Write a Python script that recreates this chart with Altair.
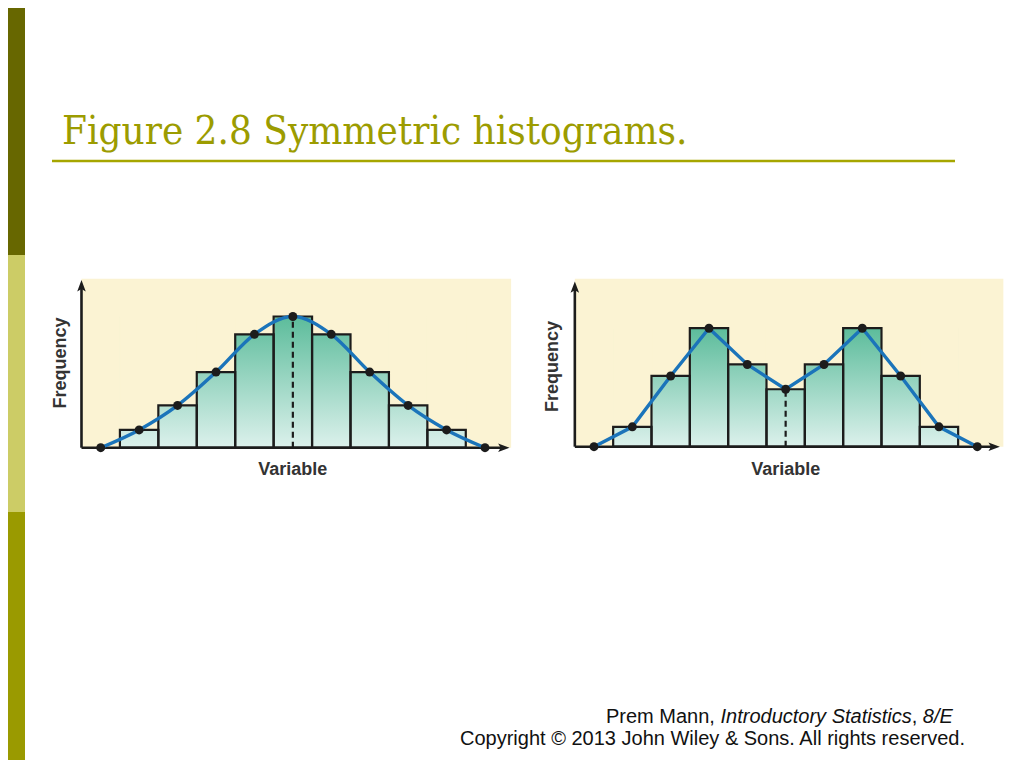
import altair as alt
import pandas as pd

# ---------------- data ----------------
classes = list(range(11))
left_freq = [0, 4, 9.5, 17, 25.5, 29.5, 25.5, 17, 9.5, 4, 0]
right_freq = [0, 4.5, 16, 26.8, 18.6, 13, 18.6, 26.8, 16, 4.5, 0]
x_label = "Variable"
y_label = "Frequency"
title_text = "Figure 2.8 Symmetric histograms."
footer_parts = ["Prem Mann, ", "Introductory Statistics", ", ", "8/E"]
footer_line2 = "Copyright \u00a9 2013 John Wiley & Sons. All rights reserved."

# ---------------- styles ----------------
BG = "#fbf3d3"
LINE = "#1b74ba"
INK = "#1c1c1c"
OLIVE = "#9c9c00"
GRAD = alt.Gradient(
    gradient="linear",
    stops=[alt.GradientStop(color="#5cbc9b", offset=0),
           alt.GradientStop(color="#dcf1ec", offset=1)],
    x1=0, x2=0, y1=0, y2=1,
)
ARROW_R = "M-1,-0.75 L1,0 L-1,0.75 L-0.55,0 Z"
ARROW_U = "M-0.75,1 L0,-1 L0.75,1 L0,0.55 Z"


def panel(freq, xr, yr, smooth, yaxis_top, xaxis_end, label_xy):
    xs = alt.Scale(domain=[0, 10], range=xr, nice=False, zero=False)
    ys = alt.Scale(domain=[0, 38], range=yr, nice=False, zero=False)
    peak = max(freq)
    df = pd.DataFrame({"cls": classes, "freq": freq})
    df["lo"] = df["cls"] - 0.5
    df["hi"] = df["cls"] + 0.5
    df["peak"] = peak
    df["zero"] = 0.0
    bars = df[(df["cls"] > 0) & (df["cls"] < 10)]

    def X(f):
        return alt.X(f, type="quantitative", scale=xs, axis=None)

    def Y(f):
        return alt.Y(f, type="quantitative", scale=ys, axis=None)

    frame = pd.DataFrame({"x0": [-0.5], "x1": [10.68], "y0": [0.0], "y1": [38.0],
                          "xe": [xaxis_end], "yt": [yaxis_top],
                          "g0": [bars["lo"].min()], "g1": [bars["hi"].max()],
                          "pk": [peak], "mid": [5.0], "midf": [freq[5]]})

    bg = alt.Chart(frame).mark_rect(fill=BG).encode(
        x=X("x0"), x2="x1", y=Y("y0"), y2="y1")
    grad = alt.Chart(frame).mark_rect(fill=GRAD).encode(
        x=X("g0"), x2="g1", y=Y("y0"), y2="pk")
    mask = alt.Chart(bars).mark_rect(fill=BG, stroke=BG, strokeWidth=1.5).encode(
        x=X("lo"), x2="hi", y=Y("freq"), y2="peak")
    outline = alt.Chart(bars).mark_rect(fillOpacity=0, stroke=INK, strokeWidth=2.2).encode(
        x=X("lo"), x2="hi", y=Y("zero"), y2="freq")
    dash = alt.Chart(frame).mark_rule(stroke=INK, strokeWidth=2.2, strokeDash=[6, 4]).encode(
        x=X("mid"), y=Y("y0"), y2="midf")
    xaxis = alt.Chart(frame).mark_rule(stroke=INK, strokeWidth=2.6).encode(
        x=X("x0"), x2="xe", y=Y("y0"))
    yaxis = alt.Chart(frame).mark_rule(stroke=INK, strokeWidth=2.6).encode(
        x=X("x0"), y=Y("y0"), y2="yt")
    arr_x = alt.Chart(frame).mark_point(shape=ARROW_R, filled=True, fill=INK, size=130,
                                        strokeWidth=0, opacity=1).encode(
        x=X("xe"), y=Y("y0"))
    arr_y = alt.Chart(frame).mark_point(shape=ARROW_U, filled=True, fill=INK, size=130,
                                        strokeWidth=0, opacity=1).encode(
        x=X("x0"), y=Y("yt"))
    curve = alt.Chart(df).mark_line(color=LINE, strokeWidth=3.4,
                                    interpolate="monotone" if smooth else "linear").encode(
        x=X("cls"), y=Y("freq"), order="cls:Q")
    pts = alt.Chart(df).mark_circle(color=INK, size=80, opacity=1).encode(
        x=X("cls"), y=Y("freq"))
    xlab = alt.Chart(frame).mark_text(text=x_label, font="Liberation Sans", fontWeight="bold",
                                      fontSize=18, color="#333333", baseline="alphabetic",
                                      align="center").encode(
        x=X("mid"), y=alt.value(label_xy[2]))
    ylab = alt.Chart(frame).mark_text(text=y_label, font="Liberation Sans", fontWeight="bold",
                                      fontSize=18, color="#333333", angle=270,
                                      baseline="middle", align="center").encode(
        x=alt.value(label_xy[0]), y=alt.value(label_xy[1]))
    return alt.layer(bg, grad, mask, outline, dash, xaxis, yaxis, arr_x, arr_y,
                     curve, pts, xlab, ylab)


left = panel(left_freq, [92.7, 477.0], [439.7, 270.7], True, 36.4, 10.49,
             (52.7, 355.0, 467.0))
right = panel(right_freq, [586.0, 969.3], [438.7, 270.7], False, 36.1, 10.44,
              (545.3, 358.5, 467.0))

one = pd.DataFrame({"k": [0]})


def band(y0, y1, color):
    return alt.Chart(one).mark_rect(fill=color).encode(
        x=alt.value(0), x2=alt.value(17), y=alt.value(y0), y2=alt.value(y1))


side = alt.layer(band(0, 247, "#676700"), band(247, 504, "#cccc66"), band(504, 752, "#9a9a00"))

title = alt.Chart(one).mark_text(text=title_text, font="DejaVu Serif Condensed, DejaVu Serif",
                                 fontSize=40, color=OLIVE, align="left",
                                 baseline="alphabetic").encode(
    x=alt.value(54), y=alt.value(136))
underline = alt.Chart(one).mark_rule(stroke="#a6a600", strokeWidth=2.5).encode(
    x=alt.value(44), x2=alt.value(947), y=alt.value(153))

foot_x = [598.0, 712.5, 903.7, 914.8]
foot_style = ["normal", "italic", "normal", "italic"]
foot = []
for txt, fx, st in zip(footer_parts, foot_x, foot_style):
    foot.append(alt.Chart(one).mark_text(text=txt, font="Liberation Sans", fontSize=20,
                                         fontStyle=st, color="#111111", align="left",
                                         baseline="alphabetic").encode(
        x=alt.value(fx), y=alt.value(715)))
foot.append(alt.Chart(one).mark_text(text=footer_line2, font="Liberation Sans", fontSize=20,
                                     color="#111111", align="right",
                                     baseline="alphabetic").encode(
    x=alt.value(957), y=alt.value(737)))

chart = alt.layer(side, title, underline, left, right, *foot).resolve_scale(
    x="independent", y="independent"
).properties(
    width=1008, height=752, padding=0,
    autosize=alt.AutoSizeParams(type="none"),
    background="white",
).configure_view(strokeWidth=0)

chart.save("out.html", embed_options={"renderer": "svg", "actions": False})
